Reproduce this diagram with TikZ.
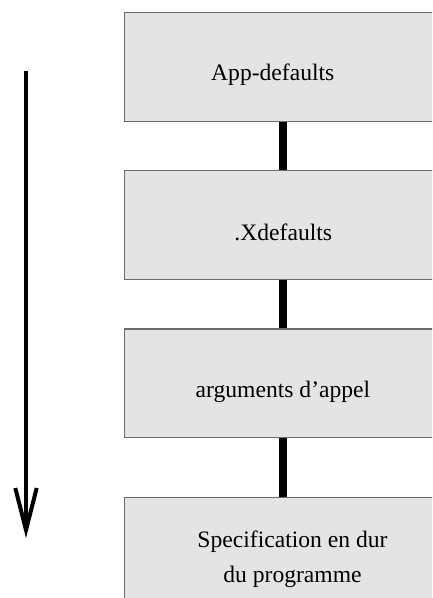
\documentclass[tikz,border=0pt]{standalone}
\usepackage{fontspec}
\setmainfont{Liberation Serif}
\begin{document}
\begin{tikzpicture}[x=1pt,y=-1pt,
  layer/.style={draw=black!58, line width=1.3pt, fill=black!10.5,
    minimum width=316.6pt, minimum height=108.7pt, inner sep=0pt, anchor=north},
  caption/.style={anchor=base, inner sep=0pt, font=\fontsize{23.6}{28}\selectfont},
  link/.style={line width=7.3pt},
  flow/.style={line width=4pt, miter limit=20}]
\useasboundingbox (0,0) rectangle (432,598);
\clip (0,0) rectangle (432,598);

% resource layers, from lowest to highest priority
\node[layer] (appdef) at (283,12) {};
\node[layer] (xdef)   at (283,170) {};
\node[layer] (args)   at (283,328.3) {};
\node[layer] (hard)   at (283,496.7) {};

% layer captions
\node[caption] (tappdef) at (272.8,80)   {App-defaults};
\node[caption] (txdef)   at (283.3,240.7) {.Xdefaults};
\node[caption] (targs)   at (283,397.7)  {arguments d’appel};
\node[caption] (thard1)  at (292.5,547.3) {Specification en dur};
\node[caption] (thard2)  at (292.5,582)   {du programme};

% links between layers
\draw[link] (appdef.south) -- (xdef.north);
\draw[link] (xdef.south) -- (args.north);
\draw[link] (args.south) -- (hard.north);

% direction of precedence
\coordinate (ftop) at (26,71);
\coordinate (ftip) at (26,530);
\coordinate (fl) at (15.3,488);
\coordinate (fr) at (36.7,488);
\draw[flow] (ftop) -- (ftip);
\draw[flow, line join=miter] (fl) -- (ftip) -- (fr);
\end{tikzpicture}
\end{document}
